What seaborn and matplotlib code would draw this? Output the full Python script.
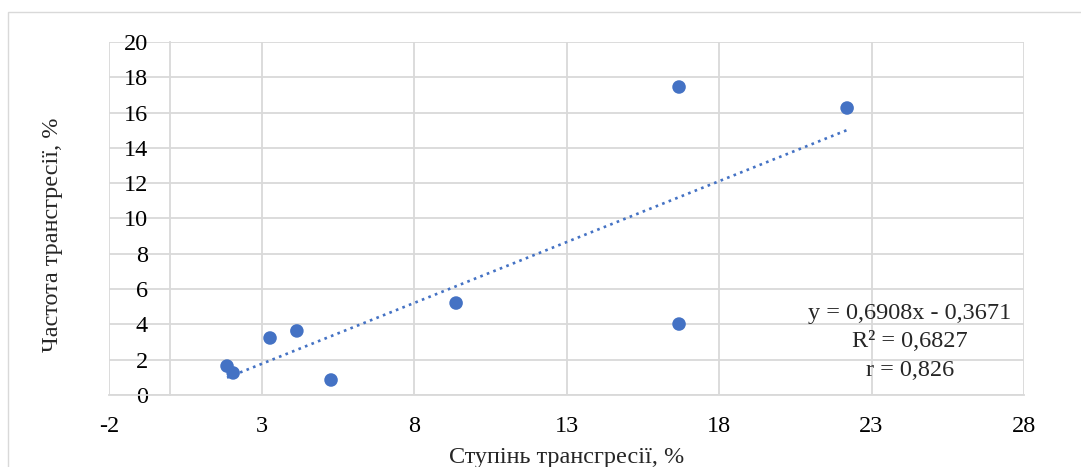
import numpy as np
import pandas as pd
import matplotlib
matplotlib.use("Agg")
import matplotlib.pyplot as plt
import seaborn as sns
from matplotlib.patches import Rectangle

# Data
x_vals = [1.87, 2.07, 3.28, 4.16, 5.28, 9.38, 16.69, 16.69, 22.2]
y_vals = [1.64, 1.25, 3.23, 3.63, 0.85, 5.21, 17.45, 4.02, 16.26]
x_ticks = [-2, 3, 8, 13, 18, 23, 28]
y_ticks = [0, 2, 4, 6, 8, 10, 12, 14, 16, 18, 20]
x_label = "Ступінь трансгресії, %"
y_label = "Частота трансгресії, %"
eq_lines = ["y = 0,6908x - 0,3671", "R² = 0,6827", "r = 0,826"]

df = pd.DataFrame({"x": x_vals, "y": y_vals})

sns.set_theme(style="white")
plt.rcParams["font.family"] = ["Liberation Serif", "DejaVu Serif"]
plt.rcParams["axes.unicode_minus"] = False

W, H = 1081, 467
fig = plt.figure(figsize=(W / 100, H / 100), dpi=100)
ax = fig.add_axes([109 / W, 1 - 395 / H, (1024 - 109) / W, (395 - 42) / H])

grid_c = "#D9D9D9"
blue = "#4472C4"
fs = 17.5

ax.set_xlim(-2, 28)
ax.set_ylim(0, 20)
ax.set_xticks(x_ticks)
ax.set_yticks(y_ticks)
ax.set_xticklabels([str(v) for v in x_ticks])
ax.set_yticklabels([str(v) for v in y_ticks])
ax.grid(True, color=grid_c, lw=1.3, zorder=0)
ax.set_axisbelow(True)

for s in ["top", "right"]:
    ax.spines[s].set_visible(False)
ax.spines["left"].set_position(("data", 0))
ax.spines["left"].set_color(grid_c)
ax.spines["left"].set_linewidth(1.3)
ax.spines["bottom"].set_color(grid_c)
ax.spines["bottom"].set_linewidth(1.3)

ax.tick_params(axis="both", length=0, labelsize=fs, colors="black")
ax.tick_params(axis="y", pad=16)
ax.tick_params(axis="x", pad=15)

# trend line (linear fit)
k, b = np.polyfit(df["x"], df["y"], 1)
xs = np.array([df["x"].min(), df["x"].max()])
ax.plot(xs, k * xs + b, color=blue, lw=1.9, ls=":", zorder=2)

sns.scatterplot(data=df, x="x", y="y", ax=ax, color=blue, s=95,
                edgecolor="none", zorder=3, clip_on=False)
ax.set_xlabel("")
ax.set_ylabel("")

for i, t in enumerate(eq_lines):
    fig.text(910 / W, 1 - (313 + i * 28.5) / H, t, ha="center", va="center", fontsize=fs)

fig.text(567 / W, 1 - 457 / H, x_label, ha="center", va="center", fontsize=fs)
fig.text(53 / W, 1 - 235 / H, y_label, ha="center", va="center", fontsize=fs, rotation=90)

fig.patches.append(Rectangle((8 / W, -0.1), 1.2, 1.1 - 12 / H, transform=fig.transFigure,
                             fill=False, edgecolor=grid_c, lw=1.0))

fig.savefig("out.png", dpi=100, facecolor="white")
